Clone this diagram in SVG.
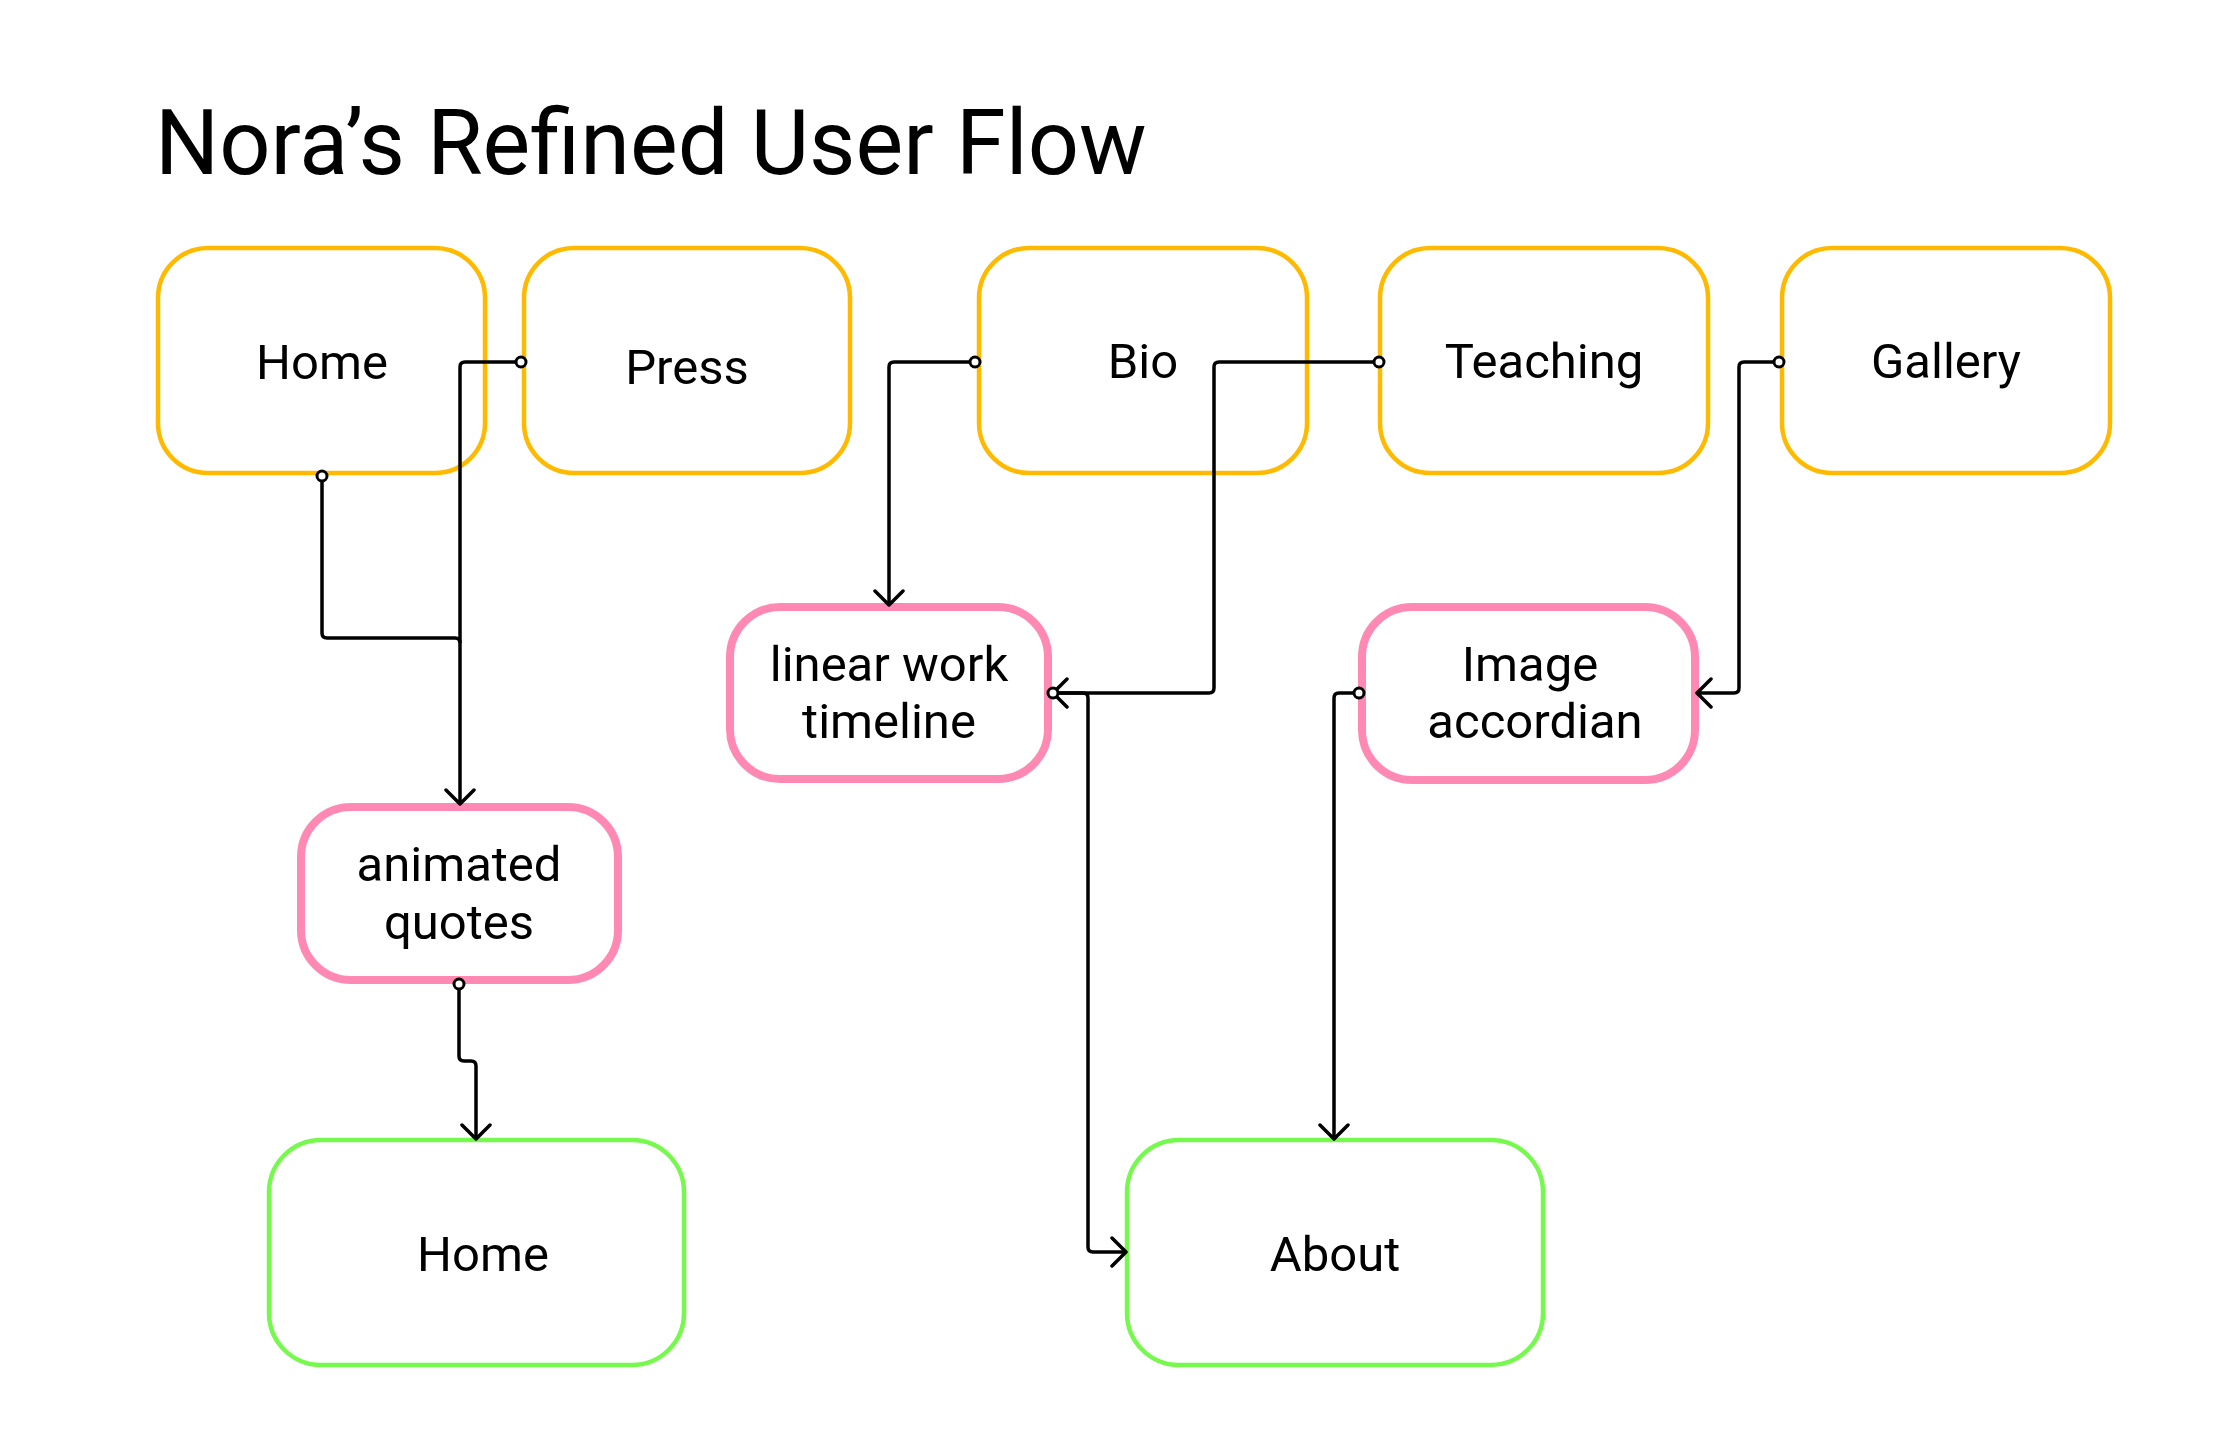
<svg xmlns="http://www.w3.org/2000/svg" width="2213" height="1429" viewBox="0 0 2213 1429">
<style>
.title{font-family:Roboto,"Liberation Sans",sans-serif;font-size:90px;fill:#000}
.lbl{font-family:Roboto,"Liberation Sans",sans-serif;font-size:49px;fill:#000;text-anchor:middle}
.page{fill:#fff;stroke:#FFBA00;stroke-width:4.5}
.feat{fill:#fff;stroke:#FF89B3;stroke-width:8}
.dest{fill:#fff;stroke:#76F94D;stroke-width:4.5}
.conn{fill:none;stroke:#000;stroke-width:3.5;stroke-linejoin:round;marker-start:url(#dot);marker-end:url(#arr)}
</style>
<defs>
<marker id="arr" viewBox="-17 -17 19 34" markerWidth="19" markerHeight="34" refX="0" refY="0" orient="auto" markerUnits="userSpaceOnUse">
<path d="M -14 -14 L 0 0 L -14 14" fill="none" stroke="#000" stroke-width="3.5" stroke-linecap="round" stroke-linejoin="round"/>
</marker>
<marker id="dot" viewBox="-8 -8 16 16" markerWidth="16" markerHeight="16" refX="0" refY="0" orient="auto" markerUnits="userSpaceOnUse">
<circle cx="0" cy="0" r="5" fill="#fff" stroke="#000" stroke-width="3"/>
</marker>
</defs>
<rect width="2213" height="1429" fill="#fff"/>
<text class="title" x="155" y="174">Nora’s Refined User Flow</text>

<g id="n-home"><rect class="page" x="158" y="248" width="327" height="225" rx="50"/><text class="lbl" x="322" y="379">Home</text></g>
<g id="n-press"><rect class="page" x="524" y="248" width="326" height="225" rx="50"/><text class="lbl" x="687" y="384">Press</text></g>
<g id="n-bio"><rect class="page" x="979" y="248" width="328" height="225" rx="50"/><text class="lbl" x="1143" y="378">Bio</text></g>
<g id="n-teaching"><rect class="page" x="1380" y="248" width="328" height="225" rx="50"/><text class="lbl" x="1544" y="378">Teaching</text></g>
<g id="n-gallery"><rect class="page" x="1782" y="248" width="328" height="225" rx="50"/><text class="lbl" x="1946" y="378">Gallery</text></g>

<g id="n-quotes"><rect class="feat" x="301" y="807" width="317" height="173" rx="50"/><text class="lbl" x="459" y="881">animated</text><text class="lbl" x="459" y="939">quotes</text></g>
<g id="n-timeline"><rect class="feat" x="730" y="607" width="318" height="172" rx="50"/><text class="lbl" x="889" y="681">linear work</text><text class="lbl" x="889" y="738">timeline</text></g>
<g id="n-accordian"><rect class="feat" x="1362" y="607" width="333" height="173" rx="50"/><text class="lbl" x="1530" y="681">Image</text><text class="lbl" x="1535" y="738">accordian</text></g>

<g id="n-home2"><rect class="dest" x="269" y="1140" width="415" height="225" rx="52"/><text class="lbl" x="483" y="1271">Home</text></g>
<g id="n-about"><rect class="dest" x="1127" y="1140" width="416" height="225" rx="52"/><text class="lbl" x="1335" y="1271">About</text></g>

<g id="connectors">
<path class="conn" d="M 521 362 H 465 Q 460 362 460 367 V 804"/>
<path d="M 322 476 V 633 Q 322 638 327 638 H 455 Q 460 638 460 643" fill="none" stroke="#000" stroke-width="3.5" marker-start="url(#dot)"/>
<path class="conn" d="M 459 984 V 1056 Q 459 1061 464 1061 H 471 Q 476 1061 476 1066 V 1139"/>
<path class="conn" d="M 975 362 H 894 Q 889 362 889 367 V 605"/>
<path class="conn" d="M 1379 362 H 1219 Q 1214 362 1214 367 V 688 Q 1214 693 1209 693 H 1053"/>
<path class="conn" d="M 1053 693 H 1083 Q 1088 693 1088 698 V 1247 Q 1088 1252 1093 1252 H 1126"/>
<path class="conn" d="M 1359 693 H 1339 Q 1334 693 1334 698 V 1139"/>
<path class="conn" d="M 1779 362 H 1744 Q 1739 362 1739 367 V 688 Q 1739 693 1734 693 H 1697"/>
</g>
</svg>
